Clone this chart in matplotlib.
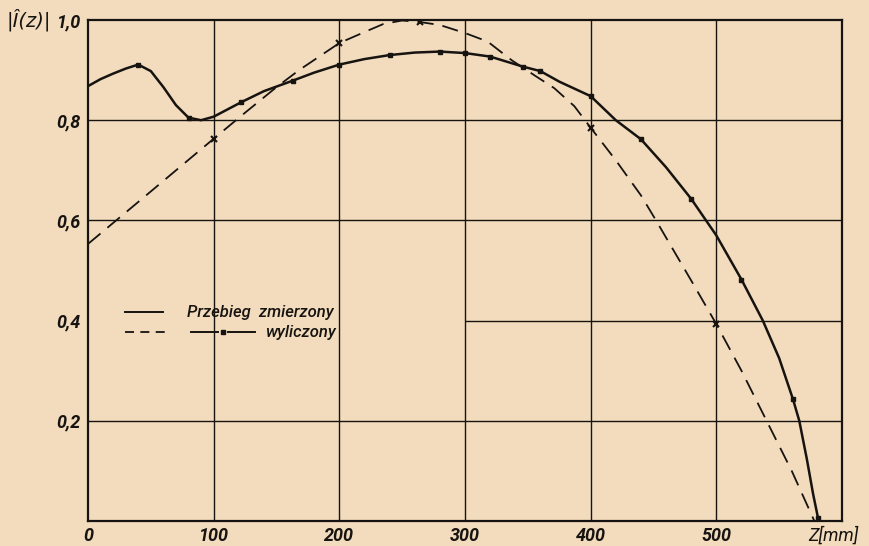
import matplotlib
matplotlib.use("Agg")
import matplotlib.pyplot as plt


z_meas = [0, 10, 20, 30, 40, 50, 60, 70, 80, 90, 100, 122, 140, 163, 180,
          200, 220, 240, 260, 280, 300, 320, 346, 360, 375, 400, 420, 440,
          460, 480, 500, 520, 537, 550, 561, 566, 572, 577, 581]
i_meas = [0.868, 0.882, 0.893, 0.903, 0.911, 0.898, 0.866, 0.830, 0.805,
          0.800, 0.807, 0.836, 0.858, 0.879, 0.895, 0.911, 0.922, 0.930,
          0.935, 0.937, 0.934, 0.927, 0.907, 0.898, 0.877, 0.848, 0.800,
          0.762, 0.706, 0.643, 0.570, 0.482, 0.400, 0.325, 0.243, 0.200,
          0.124, 0.054, 0.005]
meas_marks = [40, 80, 122, 163, 200, 240, 280, 300, 320, 346, 360, 400,
              440, 480, 520, 561, 581]

# calculated distribution (dashed line)
z_calc = [0, 42, 100, 125, 150, 168, 200, 221, 235, 250, 264, 280, 300,
          318, 337, 355, 371, 387, 400, 420, 440, 452, 480, 500, 520, 540,
          560, 578]
i_calc = [0.553, 0.641, 0.763, 0.815, 0.866, 0.900, 0.954, 0.977, 0.992,
          0.999, 0.996, 0.990, 0.974, 0.957, 0.920, 0.890, 0.864, 0.828,
          0.785, 0.720, 0.650, 0.600, 0.480, 0.393, 0.300, 0.200, 0.100,
          0.0]
calc_marks = [100, 200, 264, 400, 500]

x_ticks = [0, 100, 200, 300, 400, 500]
x_labels = ["0", "100", "200", "300", "400", "500"]
y_ticks = [0.2, 0.4, 0.6, 0.8, 1.0]
y_labels = ["0,2", "0,4", "0,6", "0,8", "1,0"]

PAPER = "#f2dcbd"
INK = "#161310"
NUM_FONT = ["Liberation Sans Narrow", "Roboto", "DejaVu Sans"]


def draw(ax):
    # grid as printed: 0.4 line only on the right half
    for x in x_ticks[1:]:
        ax.axvline(x, color=INK, lw=1.0, zorder=1)
    for y in [0.2, 0.6, 0.8]:
        ax.axhline(y, color=INK, lw=1.0, zorder=1)
    ax.hlines(0.4, 300, 600, color=INK, lw=1.0, zorder=1)

    idx_m = [i for i, z in enumerate(z_meas) if z in meas_marks]
    idx_c = [i for i, z in enumerate(z_calc) if z in calc_marks]
    ax.plot(z_meas, i_meas, color=INK, lw=1.8, marker="s", ms=3,
            markevery=idx_m, zorder=3)
    ax.plot(z_calc, i_calc, color=INK, lw=1.3, dashes=(9, 5), marker="x",
            ms=4, mew=1.5, markevery=idx_c, zorder=3)

    ax.set_xlim(0, 600)
    ax.set_ylim(0, 1.0)
    ax.set_xticks(x_ticks, x_labels)
    ax.set_yticks(y_ticks, y_labels)
    ax.tick_params(length=0, labelsize=13, colors=INK)
    ax.tick_params(axis="x", pad=4)
    ax.tick_params(axis="y", pad=5)
    for lab in ax.get_xticklabels() + ax.get_yticklabels():
        lab.set_family(NUM_FONT)
        lab.set_style("italic")
        lab.set_weight("bold")
    for sp in ax.spines.values():
        sp.set_linewidth(1.6)
        sp.set_color(INK)

    ax.text(573, -0.010, "Z[mm]", ha="left", va="top", fontsize=13,
            family=NUM_FONT, style="italic", color=INK, clip_on=False)
    ax.text(-0.108, 1.0, "|Î(z)|", transform=ax.transAxes, ha="left",
            va="center", fontsize=14, style="italic", color=INK)

    # hand made legend like in the print
    tr = ax.transAxes
    ax.plot([0.049, 0.099], [0.417, 0.417], color=INK, lw=1.4, transform=tr)
    ax.text(0.131, 0.417, "Przebieg  zmierzony", transform=tr, va="center",
            fontsize=12, style="italic", weight="medium",
            family=["Roboto", "DejaVu Sans"], color=INK)
    ax.plot([0.049, 0.109], [0.377, 0.377], color=INK, lw=1.3,
            dashes=(5, 3.5), transform=tr)
    ax.plot([0.137, 0.173], [0.377, 0.377], color=INK, lw=1.4, transform=tr)
    ax.plot([0.186, 0.221], [0.377, 0.377], color=INK, lw=1.4, transform=tr)
    ax.plot([0.1795], [0.377], marker="s", ms=3, color=INK, transform=tr)
    ax.text(0.235, 0.377, "wyliczony", transform=tr, va="center",
            fontsize=12, style="italic", weight="medium",
            family=["Roboto", "DejaVu Sans"], color=INK)


def main():
    fig = plt.figure(figsize=(8.7, 5.46), dpi=100, facecolor=PAPER)
    ax = fig.add_axes([88 / 870, 1 - 521 / 546, 754 / 870, 501 / 546])
    ax.set_facecolor(PAPER)
    draw(ax)
    fig.savefig("out.png", dpi=100, facecolor=PAPER)


if __name__ == "__main__":
    main()
